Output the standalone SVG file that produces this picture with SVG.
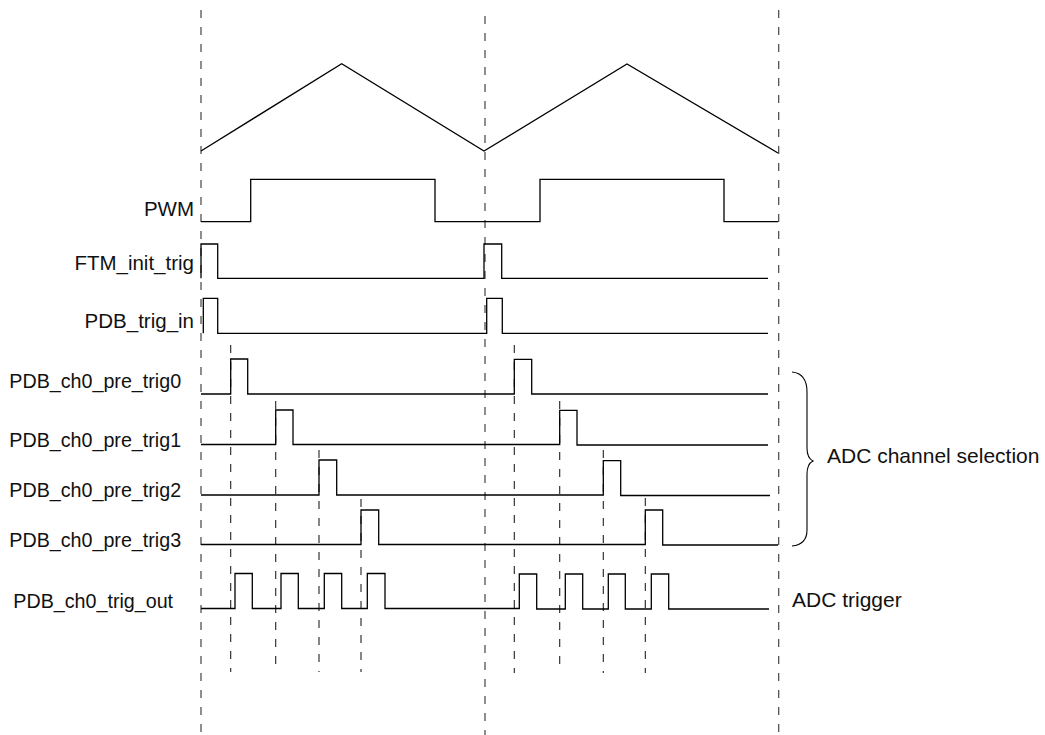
<svg xmlns="http://www.w3.org/2000/svg" width="1045" height="735" viewBox="0 0 1045 735">
<style>
.sig{fill:none;stroke:#000;stroke-width:1.3;stroke-linejoin:miter}
.gl{fill:none;stroke:#444;stroke-width:1.2;stroke-dasharray:8 9}
.sl{fill:none;stroke:#222;stroke-width:1.1;stroke-dasharray:8 9}
.lb{font-family:"Liberation Sans",Arial,Helvetica,sans-serif;font-size:20.5px;fill:#111}
.lr{font-family:"Liberation Sans",Arial,Helvetica,sans-serif;font-size:21px;fill:#111}
.lc{font-family:"Liberation Sans",Arial,Helvetica,sans-serif;font-size:19.7px;fill:#111}
</style>
<rect width="1045" height="735" fill="#fff"/>
<g id="guides">
<line class="gl" x1="201" y1="10" x2="201" y2="735"/>
<line class="gl" x1="485" y1="16" x2="485" y2="735"/>
<line class="gl" x1="778.7" y1="10" x2="778.7" y2="735"/>
<line class="sl" x1="230.7" y1="345" x2="230.7" y2="672"/>
<line class="sl" x1="275.7" y1="401" x2="275.7" y2="672"/>
<line class="sl" x1="319" y1="450" x2="319" y2="672"/>
<line class="sl" x1="361" y1="499" x2="361" y2="672"/>
<line class="sl" x1="514.3" y1="345" x2="514.3" y2="673"/>
<line class="sl" x1="559.7" y1="401" x2="559.7" y2="673"/>
<line class="sl" x1="603.3" y1="450" x2="603.3" y2="673"/>
<line class="sl" x1="645.3" y1="498" x2="645.3" y2="673"/>
</g>
<g id="triangle">
<path class="sig" d="M201,151 L341.7,63.7 L484,151 L627,64 L778,153"/>
</g>
<g id="pwm">
<text class="lb" x="194" y="216" text-anchor="end">PWM</text>
<path class="sig" d="M201,221.7 H250.7 V179.3 H435 V221.7 H540 V179.3 H724 V221.7 H778"/>
</g>
<g id="ftm_init_trig">
<text class="lb" x="194" y="270" text-anchor="end">FTM_init_trig</text>
<path class="sig" d="M201,278.3 V244 H217.7 V278.3 H484 V244 H501.7 V278.3 H768"/>
</g>
<g id="pdb_trig_in">
<text class="lb" x="194" y="328.3" text-anchor="end">PDB_trig_in</text>
<path class="sig" d="M203.3,333.3 V298.3 H217.7 V333.3 H486.7 V298.3 H502.3 V333.3 H768"/>
</g>
<g id="pre_trig0">
<text class="lc" x="9.3" y="388.3">PDB_ch0_pre_trig0</text>
<path class="sig" d="M201,394 H230.7 V359 H247.7 V394 H514.3 V359.3 H531.7 V394 H768"/>
</g>
<g id="pre_trig1">
<text class="lc" x="9.3" y="446.7">PDB_ch0_pre_trig1</text>
<path class="sig" d="M201,444.5 H275.7 V410 H293 V444.5 H559.7 V410.3 H577 V445 H768"/>
</g>
<g id="pre_trig2">
<text class="lc" x="9.3" y="496.7">PDB_ch0_pre_trig2</text>
<path class="sig" d="M201,495 H319 V460 H336.7 V495 H603.3 V460.7 H620.7 V495.5 H770"/>
</g>
<g id="pre_trig3">
<text class="lc" x="9.3" y="546.7">PDB_ch0_pre_trig3</text>
<path class="sig" d="M201,544.5 H361 V510 H378.7 V544.5 H645.3 V510 H662.7 V545 H778"/>
</g>
<g id="trig_out">
<text class="lc" x="13.3" y="608.3">PDB_ch0_trig_out</text>
<path class="sig" d="M201,608.5 H235 V573.5 H252.3 V608.5 H281 V573.5 H298.3 V608.5 H324.3 V573.5 H341.7 V608.5 H367.3 V573.5 H385 V608.5 H519.3 V574 H536.7 V609 H565.3 V574 H582.7 V609 H608.3 V574 H625.3 V609 H651.3 V574 H668.7 V609 H769"/>
</g>
<g id="adc_channel_selection">
<path class="sig" style="stroke-width:1.1" d="M792,372 C802,373 807,380 807,392 V448 C807,455 809,459 813,461 C809,463 807,467 807,474 V530 C807,540 802,545 792,546"/>
<text class="lr" x="827" y="463">ADC channel selection</text>
</g>
<g id="adc_trigger">
<text class="lr" x="792" y="607">ADC trigger</text>
</g>
</svg>
